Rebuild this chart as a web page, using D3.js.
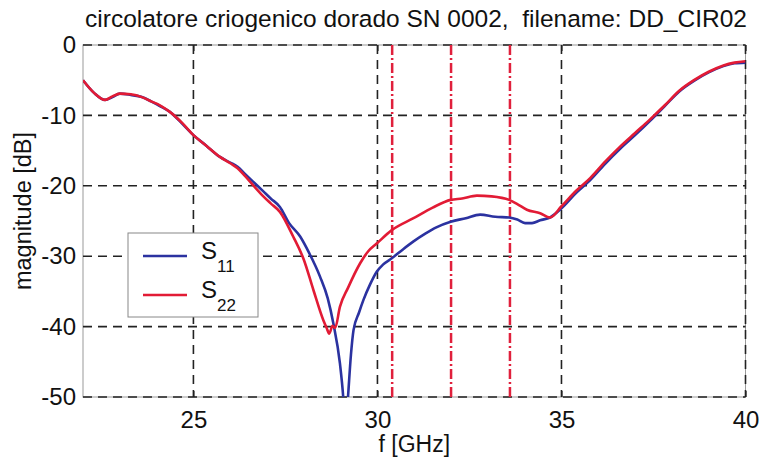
<!DOCTYPE html>
<html>
<head>
<meta charset="utf-8">
<script src="https://cdn.jsdelivr.net/npm/d3@7"></script>
<style>
  body { margin: 0; background: #fff; }
  svg { display: block; font-family: "Liberation Sans", Arial, sans-serif; }
</style>
</head>
<body>
<svg id="chart" width="763" height="468"></svg>
<script>
// frequency [GHz], magnitude [dB]
const s11 = [
  [22.0, -5.0], [22.3, -6.8], [22.6, -7.8], [22.8, -7.4], [23.0, -6.9], [23.3, -7.1],
  [23.6, -7.4], [23.85, -8.0], [24.1, -8.7], [24.36, -9.5], [24.7, -11.2], [25.0, -12.8],
  [25.35, -14.3], [25.72, -15.9], [26.0, -16.7], [26.2, -17.3], [26.4, -18.3], [26.62, -19.4],
  [26.9, -20.8], [27.1, -21.8], [27.35, -23.0], [27.6, -25.3], [27.9, -27.2], [28.15, -29.6],
  [28.44, -32.9], [28.65, -36.0], [28.8, -39.5], [28.98, -45.2], [29.07, -50], [29.13, -55],
  [29.2, -50], [29.28, -44], [29.35, -40.5], [29.5, -38.0], [29.62, -36.2], [29.8, -34.0],
  [29.98, -32.2], [30.15, -31.2], [30.39, -30.3], [30.7, -29.0], [30.98, -27.9], [31.3, -26.8],
  [31.6, -25.9], [31.99, -25.1], [32.4, -24.6], [32.79, -24.1], [33.2, -24.4], [33.58, -24.5],
  [33.8, -24.8], [34.01, -25.3], [34.2, -25.3], [34.42, -24.9], [34.69, -24.5], [35.0, -23.2],
  [35.4, -21.0], [35.78, -19.2], [36.2, -16.8], [36.6, -14.7], [37.0, -12.8], [37.4, -10.8],
  [37.8, -8.7], [38.2, -6.6], [38.6, -5.1], [39.0, -3.9], [39.4, -3.0], [39.7, -2.6], [40.0, -2.5]
];
const s22 = [
  [22.0, -5.0], [22.3, -6.8], [22.6, -7.8], [22.8, -7.3], [23.0, -6.9], [23.3, -7.0],
  [23.6, -7.4], [23.85, -8.0], [24.1, -8.6], [24.36, -9.5], [24.7, -11.1], [25.0, -12.8],
  [25.35, -14.3], [25.72, -15.9], [26.0, -16.8], [26.2, -17.5], [26.4, -18.6], [26.62, -19.9],
  [26.9, -21.5], [27.1, -22.5], [27.35, -23.7], [27.71, -27.2], [28.0, -30.5], [28.26, -34.8],
  [28.53, -39.1], [28.62, -40.2], [28.69, -41.0], [28.78, -39.9], [28.85, -40.2], [28.98, -37.2],
  [29.2, -34.5], [29.53, -31.0], [29.75, -29.3], [29.98, -28.2], [30.39, -26.3], [30.98, -24.6],
  [31.5, -23.1], [31.99, -22.0], [32.3, -21.8], [32.7, -21.4], [33.1, -21.5], [33.58, -22.0],
  [33.8, -22.6], [34.06, -23.4], [34.42, -23.9], [34.69, -24.5], [35.0, -22.9], [35.4, -20.7],
  [35.78, -18.9], [36.2, -16.5], [36.6, -14.4], [37.0, -12.5], [37.4, -10.6], [37.8, -8.6],
  [38.2, -6.5], [38.6, -5.0], [39.0, -3.8], [39.4, -2.9], [39.7, -2.5], [40.0, -2.3]
];
const markers = [30.4, 32.0, 33.6];
const xTicks = [25, 30, 35, 40];
const yTicks = [0, -10, -20, -30, -40, -50];
const title = "circolatore criogenico dorado SN 0002,  filename: DD_CIR02";

const svg = d3.select("#chart");
const margin = {top: 45, right: 17.5, bottom: 71, left: 83};
const W = 763, H = 468;
const innerW = W - margin.left - margin.right;
const innerH = H - margin.top - margin.bottom;
const g = svg.append("g").attr("transform", `translate(${margin.left},${margin.top})`);

const x = d3.scaleLinear().domain([22, 40]).range([0, innerW]);
const y = d3.scaleLinear().domain([-50, 0]).range([innerH, 0]);

svg.append("defs").append("clipPath").attr("id", "clip")
  .append("rect").attr("width", innerW).attr("height", innerH);

// box
g.append("rect").attr("width", innerW).attr("height", innerH)
  .attr("fill", "none").attr("stroke", "#999").attr("stroke-width", 1);

// grid
g.selectAll(".hgrid").data(yTicks).enter().append("line")
  .attr("x1", 0).attr("x2", innerW).attr("y1", d => y(d)).attr("y2", d => y(d))
  .attr("stroke", "#222").attr("stroke-width", 1.6).attr("stroke-dasharray", "9,6");
g.selectAll(".vgrid").data([25, 30, 35, 40]).enter().append("line")
  .attr("y1", 0).attr("y2", innerH).attr("x1", d => x(d)).attr("x2", d => x(d))
  .attr("stroke", "#222").attr("stroke-width", 1.6).attr("stroke-dasharray", "9,6");

const fmt = d => String(d);

// ticks
const xAxisB = d3.axisBottom(x).tickValues(xTicks).tickSize(-6).tickPadding(14).tickFormat(fmt);
const gx = g.append("g").attr("transform", `translate(0,${innerH})`).call(xAxisB);
gx.select(".domain").remove();
gx.selectAll("line").attr("stroke", "#222").attr("stroke-width", 1.2);
gx.selectAll("text").attr("font-size", 24).attr("fill", "#111").attr("font-family", "Liberation Sans, Arial, sans-serif");

const xAxisT = d3.axisTop(x).tickValues(xTicks).tickSize(-6).tickFormat("");
const gxt = g.append("g").call(xAxisT);
gxt.select(".domain").remove();
gxt.selectAll("line").attr("stroke", "#222").attr("stroke-width", 1.2);

const yAxis = d3.axisLeft(y).tickValues(yTicks).tickSize(0).tickPadding(7).tickFormat(fmt);
const gy = g.append("g").call(yAxis);
gy.select(".domain").remove();
gy.selectAll("text").attr("font-size", 24).attr("fill", "#111").attr("font-family", "Liberation Sans, Arial, sans-serif");

// marker lines
g.selectAll(".marker").data(markers).enter().append("line")
  .attr("x1", d => x(d)).attr("x2", d => x(d)).attr("y1", 0).attr("y2", innerH)
  .attr("stroke", "#e0203c").attr("stroke-width", 2.5).attr("stroke-dasharray", "10,3,2,3");

// curves
const line = d3.line().x(d => x(d[0])).y(d => y(d[1])).curve(d3.curveMonotoneX);
const curves = g.append("g").attr("clip-path", "url(#clip)");
curves.append("path").datum(s11).attr("d", line)
  .attr("fill", "none").attr("stroke", "#2b32a0").attr("stroke-width", 2.6).attr("stroke-linejoin", "round");
curves.append("path").datum(s22).attr("d", line)
  .attr("fill", "none").attr("stroke", "#e21b35").attr("stroke-width", 2.6).attr("stroke-linejoin", "round");

// legend
const leg = svg.append("g").attr("transform", "translate(128,233)");
leg.append("rect").attr("width", 130).attr("height", 84)
  .attr("fill", "#fff").attr("stroke", "#888").attr("stroke-width", 1);
const legItems = [{name: "11", color: "#2b32a0"}, {name: "22", color: "#e21b35"}];
legItems.forEach((d, i) => {
  const yy = 23 + i * 39;
  leg.append("line").attr("x1", 15).attr("x2", 59).attr("y1", yy).attr("y2", yy)
    .attr("stroke", d.color).attr("stroke-width", 2.6);
  const t = leg.append("text").attr("x", 73).attr("y", yy + 3).attr("font-size", 24).attr("fill", "#111");
  t.append("tspan").text("S");
  t.append("tspan").attr("dy", 13).attr("font-size", 17).text(d.name);
});

// labels
svg.append("text").attr("x", 416).attr("y", 27)
  .attr("text-anchor", "middle").attr("font-size", 24.5).attr("fill", "#111")
  .style("white-space", "pre").text(title);
svg.append("text").attr("x", margin.left + innerW / 2).attr("y", 452)
  .attr("text-anchor", "middle").attr("font-size", 23).attr("fill", "#111").text("f [GHz]");
svg.append("text").attr("transform", "translate(31,211) rotate(-90)")
  .attr("text-anchor", "middle").attr("font-size", 23.5).attr("fill", "#111").text("magnitude [dB]");
</script>
</body>
</html>
